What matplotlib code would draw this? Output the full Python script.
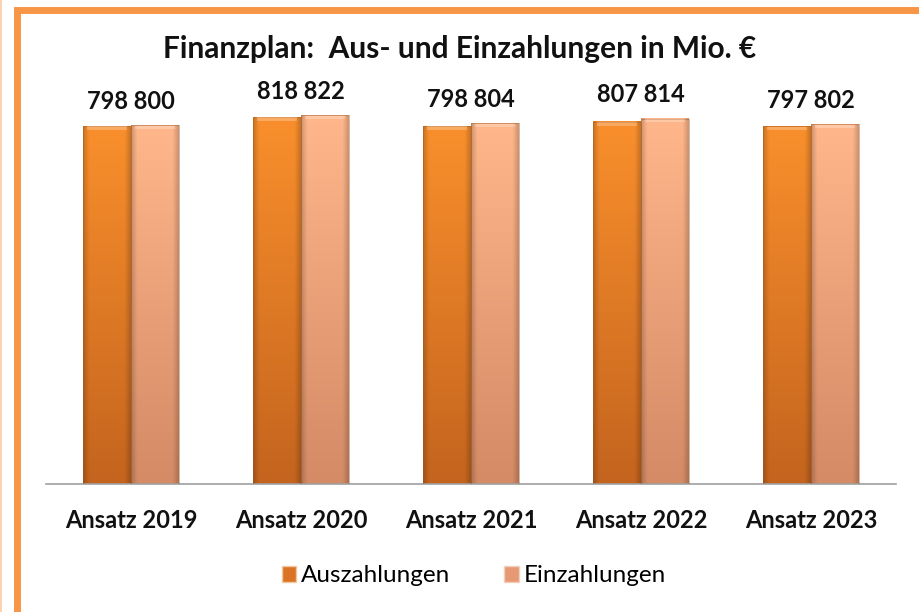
import numpy as np
import matplotlib.pyplot as plt
from matplotlib.patches import Rectangle
from matplotlib.colors import LinearSegmentedColormap

categories = ["Ansatz 2019", "Ansatz 2020", "Ansatz 2021", "Ansatz 2022", "Ansatz 2023"]
auszahlungen = [798, 818, 798, 807, 797]
einzahlungen = [800, 822, 804, 814, 802]
series_names = ["Auszahlungen", "Einzahlungen"]

plt.rcParams['font.family'] = ['Lato', 'DejaVu Sans']


def shaded_bar(ax, x, w, h, top_col, bot_col):
    """Draw a bar with vertical gradient and darker side edges."""
    cmap = LinearSegmentedColormap.from_list("g", [bot_col, top_col])
    ny, nx = 64, 32
    v = np.linspace(0, 1, ny)[:, None]
    img = cmap(np.repeat(v, nx, axis=1))
    # darken the side edges a bit
    xs = np.linspace(0, 1, nx)
    edge = 1 - 0.18 * (np.clip(1 - xs / 0.12, 0, 1) + np.clip((xs - 0.88) / 0.12, 0, 1))
    img[:, :, :3] *= edge[None, :, None]
    ax.imshow(img, extent=(x, x + w, 0, h), origin="lower", aspect="auto",
              interpolation="bilinear", zorder=2)
    ax.add_patch(Rectangle((x, 0), w, h, fill=False, edgecolor="#9a5a2a",
                           linewidth=0.6, alpha=0.5, zorder=3))
    # light bevel on top
    ax.add_patch(Rectangle((x + w * 0.08, h - 8), w * 0.84, 7, facecolor="white",
                           edgecolor="none", alpha=0.25, zorder=3))


fig = plt.figure(figsize=(9.2, 6.12), dpi=100)

# orange frame
fig.patches.append(Rectangle((17 / 920, -0.1), 1.2, 1.1 - 10 / 612,
                             transform=fig.transFigure, fill=False,
                             edgecolor="#F79646", linewidth=5, zorder=0))
fig.patches.append(Rectangle((0, 0), 2 / 920, 1, transform=fig.transFigure,
                             facecolor="#FBD3B0", edgecolor="none", zorder=0))

ax = fig.add_axes([46 / 920, 128 / 612, 850 / 920, 448.6 / 612])
ax.set_xlim(0, len(categories))
ax.set_ylim(0, 1000)

bw = 48 / 170
for i, (a, e) in enumerate(zip(auszahlungen, einzahlungen)):
    c = i + 0.5
    shaded_bar(ax, c - bw, bw, a, "#F98F2C", "#C4641E")
    shaded_bar(ax, c, bw, e, "#FFB68A", "#D48B66")
    ax.text(c, max(a, e) + 28, f"{a} {e}", ha="center", va="bottom",
            fontsize=17, fontweight="bold", color="#111111")

ax.set_xticks(np.arange(len(categories)) + 0.5)
ax.set_xticklabels(categories, fontsize=17, fontweight="bold", color="#111111")
ax.tick_params(axis="x", length=0, pad=18)
ax.set_yticks([])
for s in ["top", "left", "right"]:
    ax.spines[s].set_visible(False)
ax.spines["bottom"].set_color("#A0A0A0")
ax.spines["bottom"].set_linewidth(1.2)

fig.text(0.5, 1 - 49 / 612, "Finanzplan:  Aus- und Einzahlungen in Mio. €",
         ha="center", va="center", fontsize=21.5, fontweight="bold", color="#111111")

handles = [Rectangle((0, 0), 1, 1, facecolor="#DA7424", edgecolor="#F0C8A0"),
           Rectangle((0, 0), 1, 1, facecolor="#E69A74", edgecolor="#F0D0B8")]
fig.legend(handles, series_names, loc="center", bbox_to_anchor=(0.515, 1 - 576 / 612),
           ncol=2, frameon=False, fontsize=17.5, handlelength=0.6, handleheight=0.6,
           handletextpad=0.2, columnspacing=2.2)

fig.savefig("out.png", dpi=100)
